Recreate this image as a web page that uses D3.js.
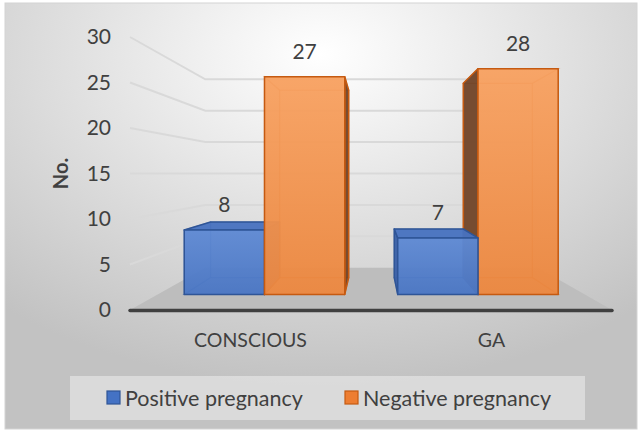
<!DOCTYPE html>
<html>
<head>
<meta charset="utf-8">
<script src="https://d3js.org/d3.v7.min.js"></script>
<style>
  body { margin: 0; background: #fff; }
  text { font-family: Lato, "Open Sans", sans-serif; fill: #404040; }
</style>
</head>
<body>
<script>
// data
var categories = ["CONSCIOUS", "GA"];
var series = ["Positive pregnancy", "Negative pregnancy"];
var positive = [8, 7];
var negative = [27, 28];
var yTicks = [0, 5, 10, 15, 20, 25, 30];

var W = 642, H = 435;
var svg = d3.select("body").append("svg")
    .attr("width", W).attr("height", H);

var defs = svg.append("defs");
var bg = defs.append("radialGradient").attr("id", "bg")
    .attr("cx", "50%").attr("cy", "12%").attr("r", "78%");
bg.append("stop").attr("offset", "0%").attr("stop-color", "#ffffff");
bg.append("stop").attr("offset", "100%").attr("stop-color", "#c2c2c2");

var grads = {
  blue: ["#5f8ad4", "#4a76c4"],
  orange: ["#f8a262", "#ec873f"]
};
Object.keys(grads).forEach(function(k) {
  var g = defs.append("linearGradient").attr("id", "g_" + k)
      .attr("x1", 0).attr("y1", 0).attr("x2", 0).attr("y2", 1);
  g.append("stop").attr("offset", "0%").attr("stop-color", grads[k][0]);
  g.append("stop").attr("offset", "100%").attr("stop-color", grads[k][1]);
});

// chart area
svg.append("rect").attr("x", 5).attr("y", 3).attr("width", 632).attr("height", 426)
    .attr("fill", "url(#bg)").attr("stroke", "#d4d4d4");

// front-plane scales
var x0 = d3.scaleBand().domain(categories).range([130, 612]);
var x1 = d3.scaleBand().domain(series).range([0, x0.bandwidth()]).paddingOuter(0.33);
var y = d3.scaleLinear().domain([0, 30]).range([310, 37]);

// simple perspective: eye at screen (cx, cy), depth z
var cx = 373, cy = y(15);
var zWallFront = 0, zBarFront = 0.129, zBarBack = 0.312, zWallBack = 0.449;
function P(xf, yf, z) {
  var s = 1 / (1 + z);
  return [cx + (xf - cx) * s, cy + (yf - cy) * s];
}
function poly(pts) {
  return "M" + pts.map(function(p) { return p[0].toFixed(2) + "," + p[1].toFixed(2); }).join("L") + "Z";
}

var plot = svg.append("g");

// gridlines: side wall and back wall
yTicks.filter(function(t) { return t > 0; }).forEach(function(t) {
  var a = P(130, y(t), zWallFront), b = P(130, y(t), zWallBack), c = P(612, y(t), zWallBack);
  plot.append("path").attr("d", "M" + a + "L" + b + "L" + c)
      .attr("fill", "none").attr("stroke", "#d9d9d9").attr("stroke-width", 2);
});

// floor
plot.append("path")
    .attr("d", poly([P(130, y(0), zWallFront), P(130, y(0), zWallBack), P(612, y(0), zWallBack), P(612, y(0), zWallFront)]))
    .attr("fill", "#bdbdbd");
plot.append("line").attr("x1", 130).attr("x2", 612).attr("y1", y(0) + 0.5).attr("y2", y(0) + 0.5)
    .attr("stroke", "#404040").attr("stroke-width", 3.5).attr("stroke-linecap", "round");

// bars
var styles = {
  "Positive pregnancy": { fill: "url(#g_blue)", side: "#3b62a8", top: "#4872bf", edge: "#2f5597", key: "#4472c4" },
  "Negative pregnancy": { fill: "url(#g_orange)", side: "#6e4328", top: "#ee9553", edge: "#c55a11", key: "#ed7d31" }
};

var bars = [];
categories.forEach(function(c, i) {
  [positive[i], negative[i]].forEach(function(v, j) {
    var xa = x0(c) + x1(series[j]);
    bars.push({ cat: c, ser: series[j], v: v, xa: xa, xb: xa + x1.bandwidth() });
  });
});
// paint far-from-eye bars first
bars.sort(function(a, b) {
  return Math.abs((b.xa + b.xb) / 2 - cx) - Math.abs((a.xa + a.xb) / 2 - cx);
});

bars.forEach(function(d) {
  var st = styles[d.ser];
  var yt = y(d.v), yb = y(0), z0 = zBarFront, z1 = zBarBack;
  var faces = {
    back:   [P(d.xa, yb, z1), P(d.xb, yb, z1), P(d.xb, yt, z1), P(d.xa, yt, z1)],
    left:   [P(d.xa, yb, z0), P(d.xa, yt, z0), P(d.xa, yt, z1), P(d.xa, yb, z1)],
    right:  [P(d.xb, yb, z0), P(d.xb, yt, z0), P(d.xb, yt, z1), P(d.xb, yb, z1)],
    top:    [P(d.xa, yt, z0), P(d.xb, yt, z0), P(d.xb, yt, z1), P(d.xa, yt, z1)],
    bottom: [P(d.xa, yb, z0), P(d.xb, yb, z0), P(d.xb, yb, z1), P(d.xa, yb, z1)],
    front:  [P(d.xa, yb, z0), P(d.xb, yb, z0), P(d.xb, yt, z0), P(d.xa, yt, z0)]
  };
  var leftVis = d.xa > cx, rightVis = d.xb < cx, topVis = yt > cy;
  var g = plot.append("g");
  var hidden = ["back", "bottom"];
  if (!leftVis) hidden.push("left");
  if (!rightVis) hidden.push("right");
  if (!topVis) hidden.push("top");
  hidden.forEach(function(f) {
    g.append("path").attr("d", poly(faces[f]))
        .attr("fill", st.top).attr("fill-opacity", 0.4)
        .attr("stroke", st.edge).attr("stroke-opacity", 0.4).attr("stroke-width", 1.2);
  });
  var vis = [];
  if (leftVis) vis.push("left");
  if (rightVis) vis.push("right");
  if (topVis) vis.push("top");
  vis.push("front");
  vis.forEach(function(f) {
    g.append("path").attr("d", poly(faces[f]))
        .attr("fill", f === "front" ? st.fill : (f === "top" ? st.top : st.side))
        .attr("fill-opacity", 0.93)
        .attr("stroke", st.edge).attr("stroke-width", 1.5).attr("stroke-linejoin", "round");
  });
  // data label
  svg.append("text")
      .attr("x", (d.xa + d.xb) / 2 * (1 / (1 + z0)) + cx * (1 - 1 / (1 + z0)))
      .attr("y", faces.front[2][1] - 25)
      .attr("dy", "0.35em").attr("text-anchor", "middle")
      .style("font-size", "21px").text(d.v);
});

// y axis tick labels
svg.selectAll(".ytick").data(yTicks).enter().append("text")
    .attr("class", "ytick")
    .attr("x", 111).attr("y", function(d) { return y(d); })
    .attr("dy", "0.35em").attr("text-anchor", "end")
    .style("font-size", "21px").text(function(d) { return d; });

svg.append("text")
    .attr("transform", "translate(61," + y(15) + ") rotate(-90)")
    .attr("dy", "0.35em").attr("text-anchor", "middle")
    .style("font-size", "20px").style("font-weight", "bold").text("No.");

// category labels
svg.selectAll(".xcat").data(categories).enter().append("text")
    .attr("class", "xcat")
    .attr("x", function(d) { return x0(d) + x0.bandwidth() / 2; })
    .attr("y", 340).attr("dy", "0.35em").attr("text-anchor", "middle")
    .style("font-size", "19.5px").text(function(d) { return d; });

// legend
svg.append("rect").attr("x", 70).attr("y", 376).attr("width", 515).attr("height", 44)
    .attr("fill", "#ffffff").attr("fill-opacity", 0.4);
var legendX = [107, 345];
series.forEach(function(s, i) {
  var st = styles[s];
  svg.append("rect").attr("x", legendX[i]).attr("y", 391).attr("width", 13).attr("height", 13)
      .attr("fill", st.key).attr("stroke", st.edge).attr("stroke-width", 1.2);
  svg.append("text").attr("x", legendX[i] + 18).attr("y", 398).attr("dy", "0.35em")
      .style("font-size", "21.5px").text(s);
});
</script>
</body>
</html>
